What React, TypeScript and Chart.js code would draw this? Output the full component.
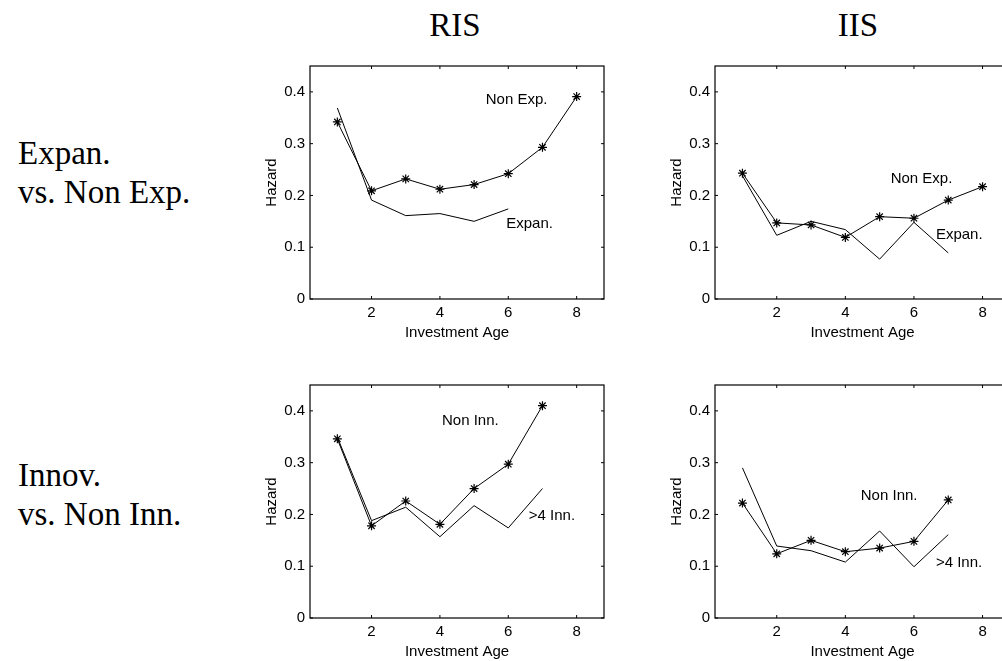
import React, { useEffect, useRef } from "react";
import { Chart, registerables } from "chart.js";

Chart.register(...registerables);

// ---------- data ----------
const AGES = [1, 2, 3, 4, 5, 6, 7, 8];
const X_TICKS = [2, 4, 6, 8];
const Y_TICKS = [0, 0.1, 0.2, 0.3, 0.4];
const X_MIN = 0.2;
const X_MAX = 8.8;
const Y_MIN = 0;
const Y_MAX = 0.45;

const RIS_NON_EXP = [0.342, 0.209, 0.232, 0.212, 0.221, 0.242, 0.293, 0.391];
const RIS_EXPAN = [0.369, 0.191, 0.161, 0.165, 0.15, 0.174];
const IIS_NON_EXP = [0.243, 0.147, 0.143, 0.119, 0.159, 0.156, 0.191, 0.217];
const IIS_EXPAN = [0.238, 0.123, 0.15, 0.134, 0.077, 0.148, 0.089];
const RIS_NON_INN = [0.346, 0.178, 0.226, 0.181, 0.25, 0.297, 0.41];
const RIS_INN4 = [0.349, 0.188, 0.214, 0.157, 0.217, 0.174, 0.25];
const IIS_NON_INN = [0.222, 0.124, 0.15, 0.128, 0.135, 0.148, 0.228];
const IIS_INN4 = [0.29, 0.139, 0.13, 0.108, 0.168, 0.099, 0.161];

const COL_TITLES = ["RIS", "IIS"];
const ROW_LABELS = [
  ["Expan.", "vs. Non Exp."],
  ["Innov.", "vs. Non Inn."],
];
const X_TITLE = "Investment Age";
const Y_TITLE = "Hazard";

// ---------- layout ----------
const SANS = '"Liberation Sans", Arial, Helvetica, sans-serif';
const SERIF = '"Liberation Serif", "Times New Roman", serif';
const AX_W = 60;
const AX_H = 50;
const PAD_T = 10;
const PAD_R = 16;

type Note = { text: string; x: number; y: number };
type PanelSpec = {
  left: number;
  top: number;
  w: number;
  h: number;
  starred: number[];
  plain: number[];
  notes: Note[];
};

const PANELS: PanelSpec[] = [
  {
    left: 310, top: 66, w: 294, h: 233,
    starred: RIS_NON_EXP, plain: RIS_EXPAN,
    notes: [
      { text: "Non Exp.", x: 5.34, y: 0.384 },
      { text: "Expan.", x: 5.94, y: 0.146 },
    ],
  },
  {
    left: 715, top: 66, w: 295, h: 233,
    starred: IIS_NON_EXP, plain: IIS_EXPAN,
    notes: [
      { text: "Non Exp.", x: 5.32, y: 0.232 },
      { text: "Expan.", x: 6.64, y: 0.124 },
    ],
  },
  {
    left: 310, top: 385, w: 294, h: 233,
    starred: RIS_NON_INN, plain: RIS_INN4,
    notes: [
      { text: "Non Inn.", x: 4.06, y: 0.38 },
      { text: ">4 Inn.", x: 6.6, y: 0.198 },
    ],
  },
  {
    left: 715, top: 385, w: 295, h: 233,
    starred: IIS_NON_INN, plain: IIS_INN4,
    notes: [
      { text: "Non Inn.", x: 4.45, y: 0.236 },
      { text: ">4 Inn.", x: 6.64, y: 0.107 },
    ],
  },
];

const toPoints = (vals: number[]) => vals.map((v, i) => ({ x: AGES[i], y: v }));

const framePlugin = {
  id: "frame",
  afterDraw(chart: any, _args: any, opts: any) {
    const { ctx, chartArea: a, scales } = chart;
    const x = scales.x;
    const y = scales.y;
    ctx.save();
    ctx.strokeStyle = "#000";
    ctx.lineWidth = 1.2;
    ctx.strokeRect(a.left, a.top, a.right - a.left, a.bottom - a.top);
    const T = 3;
    ctx.lineWidth = 1;
    ctx.beginPath();
    for (const v of X_TICKS) {
      const px = x.getPixelForValue(v);
      ctx.moveTo(px, a.bottom);
      ctx.lineTo(px, a.bottom - T);
      ctx.moveTo(px, a.top);
      ctx.lineTo(px, a.top + T);
    }
    for (const v of Y_TICKS) {
      const py = y.getPixelForValue(v);
      ctx.moveTo(a.left, py);
      ctx.lineTo(a.left + T, py);
      ctx.moveTo(a.right, py);
      ctx.lineTo(a.right - T, py);
    }
    ctx.stroke();
    ctx.fillStyle = "#000";
    ctx.font = `15px ${SANS}`;
    ctx.textAlign = "left";
    ctx.textBaseline = "middle";
    for (const n of opts.notes || []) {
      ctx.fillText(n.text, x.getPixelForValue(n.x), y.getPixelForValue(n.y));
    }
    ctx.restore();
  },
};

function Panel({ p }: { p: PanelSpec }) {
  const ref = useRef<HTMLCanvasElement>(null);
  const cw = AX_W + p.w + PAD_R;
  const ch = PAD_T + p.h + AX_H;

  useEffect(() => {
    const chart = new Chart(ref.current as HTMLCanvasElement, {
      type: "line",
      data: {
        datasets: [
          {
            data: toPoints(p.plain),
            borderColor: "#000",
            borderWidth: 1,
            pointRadius: 0,
            tension: 0,
          },
          {
            data: toPoints(p.starred),
            borderColor: "#000",
            borderWidth: 1,
            pointStyle: "star",
            pointRadius: 4.5,
            pointBorderColor: "#000",
            pointBorderWidth: 1.2,
            pointBackgroundColor: "rgba(0,0,0,0)",
            tension: 0,
          },
        ],
      },
      options: {
        animation: false,
        responsive: false,
        devicePixelRatio: 1,
        events: [],
        layout: { padding: { left: 0, top: PAD_T, right: PAD_R, bottom: 0 } },
        plugins: {
          legend: { display: false },
          tooltip: { enabled: false },
          frame: { notes: p.notes },
        } as any,
        scales: {
          x: {
            type: "linear",
            min: X_MIN,
            max: X_MAX,
            afterBuildTicks: (s: any) => {
              s.ticks = X_TICKS.map((v) => ({ value: v }));
            },
            afterFit: (s: any) => {
              s.height = AX_H;
              s.paddingLeft = 0;
              s.paddingRight = 0;
            },
            grid: { display: false, drawTicks: false },
            border: { display: false },
            ticks: {
              padding: 5,
              color: "#000",
              autoSkip: false,
              maxRotation: 0,
              font: { family: SANS, size: 15 },
              callback: (v: any) => String(v),
            },
            title: {
              display: true,
              text: X_TITLE,
              color: "#000",
              font: { family: SANS, size: 15 },
              padding: { top: 0, bottom: 7 },
            },
          },
          y: {
            type: "linear",
            min: Y_MIN,
            max: Y_MAX,
            afterBuildTicks: (s: any) => {
              s.ticks = Y_TICKS.map((v) => ({ value: v }));
            },
            afterFit: (s: any) => {
              s.width = AX_W;
              s.paddingTop = 0;
              s.paddingBottom = 0;
            },
            grid: { display: false, drawTicks: false },
            border: { display: false },
            ticks: {
              padding: 5,
              color: "#000",
              autoSkip: false,
              font: { family: SANS, size: 15 },
              callback: (v: any) => (Number(v) === 0 ? "0" : Number(v).toFixed(1)),
            },
            title: {
              display: true,
              text: Y_TITLE,
              color: "#000",
              font: { family: SANS, size: 15 },
              padding: { top: 13, bottom: 0 },
            },
          },
        },
      },
      plugins: [framePlugin as any],
    });
    return () => chart.destroy();
  }, [p]);

  return (
    <canvas
      ref={ref}
      width={cw}
      height={ch}
      style={{
        position: "absolute",
        left: p.left - AX_W,
        top: p.top - PAD_T,
        width: cw,
        height: ch,
      }}
    />
  );
}

const BIG = 33;
const BASE_OFF = 0.8375 * BIG; // baseline offset within a line box of height BIG

function BigText({ text, x, baseline, center }: { text: string; x: number; baseline: number; center?: boolean }) {
  return (
    <div
      style={{
        position: "absolute",
        left: x,
        top: baseline - BASE_OFF,
        transform: center ? "translateX(-50%)" : undefined,
        fontFamily: SERIF,
        fontSize: BIG,
        lineHeight: `${BIG}px`,
        whiteSpace: "nowrap",
        color: "#000",
      }}
    >
      {text}
    </div>
  );
}

export default function App() {
  return (
    <div
      style={{
        position: "fixed",
        left: 0,
        top: 0,
        width: 1002,
        height: 661,
        overflow: "hidden",
        background: "#fff",
      }}
    >
      <BigText text={COL_TITLES[0]} x={455} baseline={37} center />
      <BigText text={COL_TITLES[1]} x={858} baseline={37} center />
      <BigText text={ROW_LABELS[0][0]} x={18} baseline={165} />
      <BigText text={ROW_LABELS[0][1]} x={18} baseline={204} />
      <BigText text={ROW_LABELS[1][0]} x={18} baseline={487} />
      <BigText text={ROW_LABELS[1][1]} x={18} baseline={526} />
      {PANELS.map((p, i) => (
        <Panel key={i} p={p} />
      ))}
    </div>
  );
}
